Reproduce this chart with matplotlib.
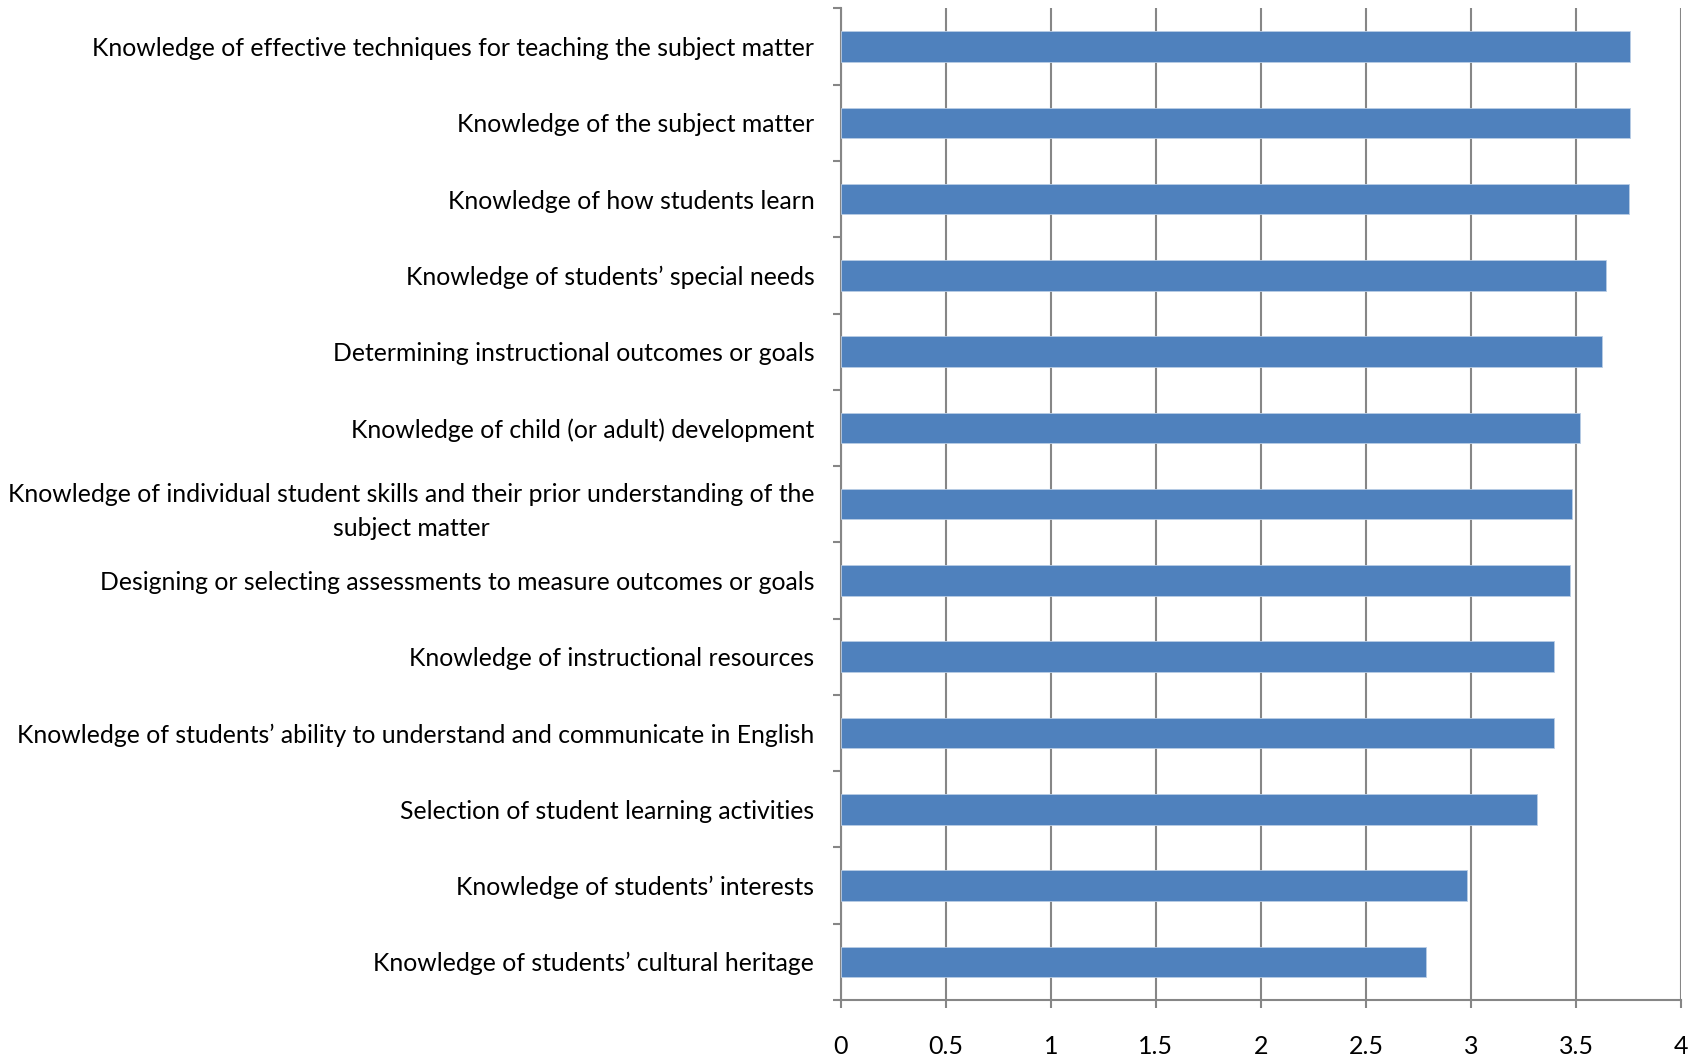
import matplotlib.pyplot as plt
import numpy as np

# ***** DATA *****
categories = [
    "Knowledge of effective techniques for teaching the subject matter",
    "Knowledge of the subject matter",
    "Knowledge of how students learn",
    "Knowledge of students\u2019 special needs",
    "Determining instructional outcomes or goals",
    "Knowledge of child (or adult) development",
    "Knowledge of individual student skills and their prior understanding of the\nsubject matter",
    "Designing or selecting assessments to measure outcomes or goals",
    "Knowledge of instructional resources",
    "Knowledge of students\u2019 ability to understand and communicate in English",
    "Selection of student learning activities",
    "Knowledge of students\u2019 interests",
    "Knowledge of students\u2019 cultural heritage",
]
scores = [3.754, 3.754, 3.751, 3.643, 3.624, 3.52, 3.478, 3.469, 3.396, 3.396, 3.312, 2.979, 2.787]
x_ticks = [0, 0.5, 1, 1.5, 2, 2.5, 3, 3.5, 4]
x_tick_labels = ["0", "0.5", "1", "1.5", "2", "2.5", "3", "3.5", "4"]

plt.rcParams['font.family'] = ['Lato', 'DejaVu Sans']

# ***** GRAPHING *****
fig = plt.figure(figsize=(17, 10.57), dpi=100)
ax = fig.add_axes([0.4945, 0.054, 0.4945, 0.938])

pos = np.arange(len(categories))[::-1]
ax.barh(pos, scores, height=0.4, color='#4F81BD', edgecolor='#B9CDE5', linewidth=0.6, zorder=3)

ax.set_xlim(0, 4)
ax.set_ylim(-0.5, len(categories) - 0.5)
ax.set_xticks(x_ticks)
ax.set_xticklabels(x_tick_labels, fontsize=18)
ax.set_yticks(pos)
ax.set_yticklabels(categories, fontsize=17.8)
for lab in ax.get_yticklabels():
    lab.set_multialignment('center')
    lab.set_linespacing(1.55)
ax.set_yticks(np.arange(-0.5, len(categories), 1), minor=True)

grey = '#868686'
ax.grid(axis='x', color=grey, linewidth=1.5, zorder=0)
for side in ['top', 'right']:
    ax.spines[side].set_visible(False)
for side in ['left', 'bottom']:
    ax.spines[side].set_color(grey)
    ax.spines[side].set_linewidth(1.5)

ax.tick_params(axis='y', which='major', length=0, pad=19)
ax.tick_params(axis='y', which='minor', length=6, width=1.5, color=grey)
ax.tick_params(axis='x', which='major', length=6, width=1.5, color=grey, pad=19)

fig.savefig('out.png', dpi=100)
